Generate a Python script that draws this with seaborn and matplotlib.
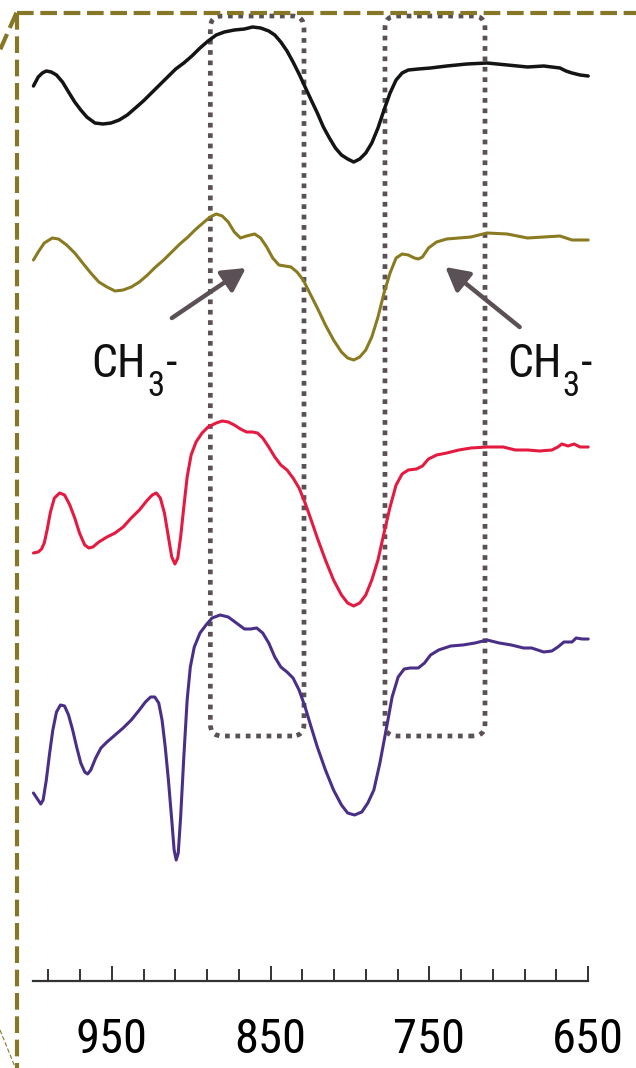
"""FT-IR 스펙트럼 (1000-650 cm-1) 확대 구간 재현."""
import matplotlib.pyplot as plt
import pandas as pd
import seaborn as sns
from matplotlib.lines import Line2D
from matplotlib.patches import FancyBboxPatch
from matplotlib.ticker import FixedLocator, NullFormatter

sns.set_theme(style="white")
FONT = ["Roboto Condensed", "Archivo Narrow", "Liberation Sans", "DejaVu Sans"]
plt.rcParams["font.family"] = FONT

# wavenumber (cm-1) / intensity (a.u., traces stacked with offsets)
black_x = [999.4, 996.4, 993.8, 991.3, 988.2, 984.9, 981.1, 977.3, 973.4, 969.6, 965.8, 960.7,
           955.6, 950.5, 945.4, 940.3, 935.2, 930.2, 925.1, 920.0, 914.9, 909.8, 904.7, 899.6,
           894.5, 889.4, 884.3, 879.2, 872.9, 866.5, 861.4, 856.3, 851.2, 847.4, 843.6, 839.7,
           835.9, 832.1, 828.3, 824.5, 820.6, 816.8, 813.0, 809.2, 805.4, 801.5, 797.7, 793.9,
           790.1, 786.3, 782.4, 778.6, 774.8, 771.0, 767.2, 763.3, 757.0, 749.3, 739.1, 726.4,
           713.7, 700.9, 688.2, 678.0, 667.8, 664.0, 660.2, 655.1, 650.0]
black_y = [8.95, 9.04, 9.08, 9.10, 9.09, 9.06, 8.99, 8.89, 8.79, 8.71, 8.64, 8.58,
           8.57, 8.58, 8.61, 8.66, 8.73, 8.80, 8.88, 8.96, 9.04, 9.12, 9.18, 9.25,
           9.33, 9.40, 9.46, 9.49, 9.51, 9.52, 9.54, 9.53, 9.50, 9.46, 9.39, 9.30,
           9.19, 9.07, 8.94, 8.81, 8.68, 8.54, 8.43, 8.33, 8.26, 8.22, 8.19, 8.22,
           8.28, 8.38, 8.53, 8.71, 8.88, 9.01, 9.08, 9.11, 9.12, 9.13, 9.15, 9.17,
           9.18, 9.16, 9.14, 9.15, 9.13, 9.10, 9.08, 9.06, 9.05]

olive_x = [999.4, 996.4, 992.6, 987.5, 983.6, 978.5, 973.4, 968.4, 963.3, 958.2, 953.1, 948.0,
           942.9, 937.8, 932.7, 927.6, 922.5, 917.4, 912.3, 907.2, 902.1, 897.0, 891.9, 888.1,
           884.3, 880.5, 876.7, 872.9, 869.0, 865.2, 860.1, 856.3, 852.5, 848.7, 844.8, 841.0,
           837.2, 833.4, 829.5, 825.7, 820.6, 815.5, 810.4, 805.4, 801.5, 797.7, 793.9, 790.1,
           786.3, 782.4, 778.6, 774.8, 771.0, 767.2, 763.3, 759.5, 757.0, 754.4, 750.6, 745.5,
           739.1, 731.5, 723.9, 713.7, 701.0, 688.2, 678.0, 667.8, 660.2, 650.0]
olive_y = [7.21, 7.29, 7.38, 7.43, 7.42, 7.36, 7.28, 7.18, 7.08, 6.99, 6.94, 6.90,
           6.91, 6.94, 6.99, 7.06, 7.14, 7.21, 7.29, 7.37, 7.44, 7.52, 7.59, 7.64,
           7.67, 7.65, 7.59, 7.49, 7.43, 7.45, 7.47, 7.43, 7.34, 7.23, 7.16, 7.15,
           7.14, 7.09, 7.01, 6.89, 6.73, 6.56, 6.41, 6.29, 6.23, 6.21, 6.24, 6.31,
           6.44, 6.64, 6.88, 7.08, 7.23, 7.27, 7.26, 7.23, 7.22, 7.24, 7.33, 7.39,
           7.42, 7.43, 7.44, 7.48, 7.47, 7.43, 7.44, 7.45, 7.41, 7.41]

red_x = [999.4, 996.4, 994.3, 992.6, 990.8, 988.7, 986.2, 982.9, 979.8, 976.5, 973.4, 970.4,
         967.1, 964.5, 962.0, 958.2, 953.1, 948.0, 942.9, 937.8, 932.7, 927.6, 924.6, 922.0,
         919.5, 916.9, 914.4, 912.3, 910.3, 908.5, 906.7, 904.7, 902.6, 900.1, 897.0, 893.2,
         889.4, 884.3, 880.5, 876.7, 872.9, 869.0, 865.2, 861.4, 858.3, 855.0, 851.2, 847.4,
         843.6, 839.7, 835.9, 832.1, 828.3, 824.5, 820.6, 815.5, 810.4, 805.4, 801.5, 797.7,
         793.9, 790.1, 786.3, 782.4, 778.6, 774.8, 771.0, 767.2, 763.3, 758.2, 754.4, 750.6,
         745.5, 739.1, 731.5, 723.9, 713.7, 703.5, 695.9, 688.2, 680.6, 672.9, 669.1, 666.6,
         662.7, 658.9, 655.1, 650.0]
red_y = [4.28, 4.29, 4.32, 4.38, 4.51, 4.69, 4.83, 4.88, 4.86, 4.76, 4.63, 4.48,
         4.36, 4.33, 4.34, 4.39, 4.44, 4.48, 4.54, 4.63, 4.71, 4.81, 4.86, 4.88,
         4.83, 4.68, 4.44, 4.24, 4.17, 4.23, 4.44, 4.74, 5.04, 5.26, 5.39, 5.48,
         5.54, 5.58, 5.60, 5.59, 5.56, 5.52, 5.49, 5.49, 5.48, 5.43, 5.34, 5.24,
         5.16, 5.11, 5.03, 4.93, 4.78, 4.61, 4.43, 4.21, 4.01, 3.86, 3.78, 3.75,
         3.78, 3.86, 4.01, 4.21, 4.48, 4.74, 4.96, 5.07, 5.11, 5.12, 5.15, 5.22,
         5.26, 5.28, 5.31, 5.33, 5.34, 5.34, 5.31, 5.31, 5.30, 5.31, 5.34, 5.37,
         5.35, 5.37, 5.34, 5.34]

purple_x = [999.4, 996.9, 994.8, 993.3, 991.3, 989.2, 987.2, 984.9, 982.4, 979.8, 977.3, 974.7,
            972.2, 969.6, 967.1, 965.3, 963.3, 960.2, 956.9, 953.1, 948.0, 942.9, 937.8, 932.7,
            928.9, 925.6, 923.0, 920.5, 918.4, 916.4, 914.4, 912.3, 910.8, 909.5, 908.2, 906.7,
            904.7, 902.6, 900.6, 898.1, 894.5, 890.7, 886.9, 881.8, 876.7, 871.6, 866.5, 862.7,
            858.8, 855.0, 851.2, 847.4, 843.6, 839.7, 835.9, 832.1, 828.3, 824.5, 820.6, 815.5,
            810.4, 805.4, 801.5, 797.2, 792.6, 788.8, 785.0, 781.2, 777.3, 773.5, 769.7, 765.9,
            762.1, 757.0, 753.1, 749.3, 744.2, 736.6, 729.0, 721.3, 713.7, 706.0, 698.4, 690.7,
            685.6, 678.0, 672.9, 669.1, 665.3, 660.2, 657.6, 653.8, 650.0]
purple_y = [1.88, 1.82, 1.77, 1.81, 2.01, 2.28, 2.51, 2.69, 2.76, 2.75, 2.66, 2.51,
            2.34, 2.18, 2.09, 2.07, 2.11, 2.23, 2.33, 2.39, 2.46, 2.53, 2.61, 2.71,
            2.79, 2.84, 2.84, 2.78, 2.61, 2.34, 2.01, 1.61, 1.31, 1.21, 1.28, 1.64,
            2.24, 2.81, 3.14, 3.34, 3.48, 3.56, 3.63, 3.66, 3.64, 3.58, 3.52, 3.52,
            3.53, 3.48, 3.38, 3.24, 3.14, 3.09, 3.03, 2.91, 2.74, 2.54, 2.34, 2.11,
            1.91, 1.76, 1.68, 1.66, 1.69, 1.78, 1.91, 2.18, 2.51, 2.84, 3.04, 3.12,
            3.13, 3.13, 3.18, 3.26, 3.31, 3.35, 3.36, 3.38, 3.41, 3.38, 3.36, 3.33,
            3.33, 3.29, 3.30, 3.34, 3.39, 3.39, 3.43, 3.42, 3.42]

major_ticks = [950, 850, 750, 650]
minor_ticks = list(range(650, 1000, 20))
label_parts = ["CH", "3", "-"]

traces = [
    (black_x, black_y, "#141414", 2.5),
    (olive_x, olive_y, "#8a7b22", 2.2),
    (red_x, red_y, "#e51a40", 2.2),
    (purple_x, purple_y, "#4a2f88", 2.2),
]

W, H = 636, 1068
fig = plt.figure(figsize=(W / 100, H / 100), dpi=100)
ax = fig.add_axes([32.5 / W, 1 - 981 / H, (588.2 - 32.5) / W, 981 / H])

for xs, ys, c, lw in traces:
    df = pd.DataFrame({"wn": xs, "a": ys})
    sns.lineplot(data=df, x="wn", y="a", color=c, lw=lw, sort=False,
                 estimator=None, ax=ax, clip_on=False)

ax.set_xlim(1000, 650)
ax.set_ylim(0, 9.81)
for s in ["top", "left", "right"]:
    ax.spines[s].set_visible(False)
ax.spines["bottom"].set_color("#333333")
ax.spines["bottom"].set_linewidth(1.6)
ax.set_yticks([])
ax.set_xlabel("")
ax.set_ylabel("")
ax.xaxis.set_major_locator(FixedLocator(major_ticks))
ax.xaxis.set_minor_locator(FixedLocator(minor_ticks))
ax.xaxis.set_minor_formatter(NullFormatter())
ax.tick_params(axis="x", which="both", bottom=True, direction="in", width=1.4,
               color="#333333")
ax.tick_params(axis="x", which="major", length=11, pad=26, labelsize=35,
               labelcolor="black")
ax.tick_params(axis="x", which="minor", length=8.5)
for t in ax.get_xticklabels():
    t.set_fontfamily(FONT)

# 점선 박스 (CH3 밴드 구간)
box_col = "#5b5056"
for x0, x1 in [(829, 888), (715, 778)]:
    box = FancyBboxPatch((x0, 2.45), x1 - x0, 9.65 - 2.45,
                         boxstyle="round,pad=0,rounding_size=7.5", mutation_aspect=0.016,
                         fill=False, ec=box_col, lw=3.4, ls=(0, (1, 1.2)), clip_on=False)
    ax.add_patch(box)

# 화살표 + 라벨 (CH3-, 아래첨자는 따로 붙임)
arrow_kw = dict(arrowstyle="-|>,head_length=0.7,head_width=0.38", color=box_col,
                lw=3.2, mutation_scale=20, shrinkA=0, shrinkB=0)
ax.annotate("", xy=(865.6, 7.13), xytext=(912.2, 6.63), arrowprops=arrow_kw)
ax.annotate("", xy=(740, 7.14), xytext=(693.2, 6.54), arrowprops=arrow_kw)
for lx in [962.7, 700.9]:
    t1 = ax.text(lx, 6.04, label_parts[0], fontsize=33, ha="left", va="baseline",
                 family=FONT, color="#111111")
    t2 = ax.annotate(label_parts[1], xy=(1, 0), xycoords=t1, xytext=(0.6, -12.5),
                     textcoords="offset points", fontsize=25, ha="left", va="bottom",
                     family=FONT, color="#111111")
    ax.annotate(label_parts[2], xy=(1, 0), xycoords=t2, xytext=(1.0, 12.5),
                textcoords="offset points", fontsize=33, ha="left", va="bottom",
                family=FONT, color="#111111")

# 확대 프레임 (올리브색 파선)
frame = "#867726"
fig.add_artist(Line2D([16.5 / W, 1], [1 - 12.7 / H] * 2, color=frame, lw=3.0,
                      ls=(0, (4, 1.6)), transform=fig.transFigure))
fig.add_artist(Line2D([16.5 / W] * 2, [1 - 12.7 / H, 0], color=frame, lw=3.0,
                      ls=(0, (4, 1.6)), transform=fig.transFigure))
fig.add_artist(Line2D([16.5 / W, 0], [1 - 12.7 / H, 1 - 50 / H], color=frame, lw=3.0,
                      ls=(0, (4, 1.6)), transform=fig.transFigure))
fig.add_artist(Line2D([0, 15 / W], [1 - 1030 / H, 1 - 1067 / H], color=frame, lw=0.8,
                      ls=(0, (4, 2)), transform=fig.transFigure))

fig.savefig("out.png", dpi=100)
